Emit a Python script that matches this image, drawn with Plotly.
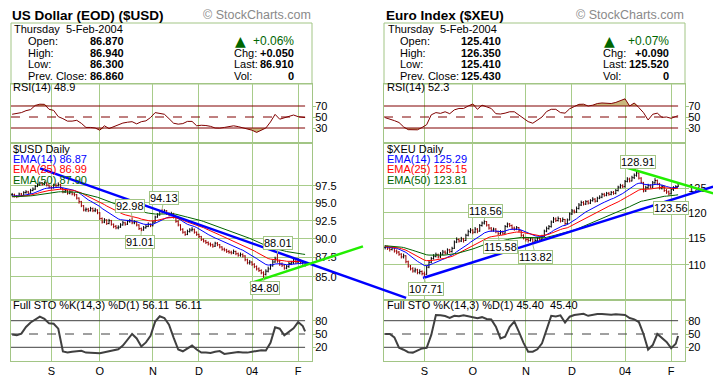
import numpy as np
import plotly.graph_objects as go

W, H = 713, 379
FONT = "Liberation Sans, Arial, sans-serif"

# ---------------- data ----------------
months = ['S', 'O', 'N', 'D', '04', 'F']
month_idx = [17, 38, 61, 81, 104, 124]

usd_close = [96.20, 96.00, 95.90, 96.30, 96.10, 96.50, 96.60, 96.40, 96.80, 97.00,
             97.40, 97.60, 97.90, 97.70, 97.90, 97.60, 97.30, 97.20, 97.60, 97.50,
             97.70, 97.10, 96.60, 96.80, 96.40, 96.60, 96.30, 96.20, 95.70, 95.20,
             94.60, 94.00, 94.10, 93.90, 94.20, 93.90, 94.00, 93.60, 92.80, 92.30,
             92.60, 92.10, 92.50, 92.00, 91.70, 91.50, 91.60, 91.90, 92.20, 92.00,
             92.40, 92.50, 92.20, 92.30, 91.90, 91.40, 91.20, 91.50, 91.70, 92.00,
             91.80, 92.30, 93.00, 93.30, 93.80, 93.70, 93.90, 93.50, 93.30, 93.50,
             93.00, 92.40, 91.90, 91.30, 90.90, 90.60, 91.00, 91.20, 91.30, 90.90,
             90.60, 90.30, 89.90, 89.70, 89.50, 89.30, 89.20, 89.00, 89.40, 89.20,
             88.90, 88.60, 88.50, 88.30, 88.20, 88.10, 88.30, 88.00, 87.80, 87.90,
             87.70, 87.20, 86.80, 86.90, 86.60, 86.30, 86.00, 85.80, 85.50, 85.30,
             85.70, 86.00, 86.40, 86.90, 87.30, 87.00, 86.60, 86.50, 86.10, 86.30,
             86.70, 86.80, 87.00, 86.90, 87.10, 86.80, 86.86, 86.91]
usd_high = [96.45, 96.35, 96.15, 96.50, 96.45, 96.70, 96.85, 96.75, 97.05, 97.25,
            97.60, 97.85, 98.10, 98.05, 98.15, 98.00, 97.70, 97.50, 97.80, 97.85,
            98.00, 97.75, 97.20, 97.05, 96.90, 96.85, 96.70, 96.50, 96.30, 95.80,
            95.30, 94.70, 94.35, 94.30, 94.45, 94.35, 94.30, 94.10, 93.70, 92.95,
            92.85, 92.70, 92.75, 92.60, 92.10, 91.90, 91.85, 92.15, 92.45, 92.35,
            92.60, 92.75, 92.98, 92.55, 92.40, 92.00, 91.55, 91.75, 91.95, 92.25,
            92.10, 92.50, 93.20, 93.55, 94.00, 94.13, 94.10, 94.00, 93.70, 93.75,
            93.60, 93.10, 92.55, 92.00, 91.45, 91.05, 91.25, 91.45, 91.60, 91.40,
            91.00, 90.70, 90.40, 90.05, 89.85, 89.65, 89.50, 89.35, 89.60, 89.55,
            89.30, 89.00, 88.80, 88.65, 88.50, 88.40, 88.55, 88.40, 88.15, 88.15,
            88.05, 87.80, 87.35, 87.15, 87.00, 86.75, 86.45, 86.20, 85.95, 85.70,
            85.95, 86.30, 86.65, 87.20, 87.60, 88.01, 87.20, 86.85, 86.60, 86.55,
            86.95, 87.05, 87.35, 87.25, 87.40, 87.20, 87.05, 86.94]
usd_low = [95.95, 95.80, 95.70, 95.85, 95.95, 96.05, 96.35, 96.25, 96.35, 96.70,
           96.90, 97.30, 97.50, 97.50, 97.60, 97.40, 97.10, 96.95, 97.10, 97.30,
           97.40, 96.95, 96.40, 96.45, 96.20, 96.25, 96.10, 95.95, 95.50, 94.90,
           94.40, 93.80, 93.75, 93.70, 93.80, 93.70, 93.70, 93.40, 92.60, 92.10,
           92.15, 91.90, 92.00, 91.80, 91.45, 91.30, 91.30, 91.50, 91.80, 91.80,
           91.90, 92.20, 92.00, 92.00, 91.70, 91.20, 91.01, 91.10, 91.40, 91.60,
           91.60, 91.70, 92.20, 92.90, 93.20, 93.50, 93.55, 93.30, 93.10, 93.15,
           92.80, 92.20, 91.70, 91.10, 90.70, 90.40, 90.50, 90.85, 91.00, 90.70,
           90.40, 90.10, 89.70, 89.50, 89.30, 89.10, 88.95, 88.80, 88.90, 89.00,
           88.70, 88.40, 88.30, 88.10, 88.00, 87.90, 87.95, 87.80, 87.60, 87.60,
           87.50, 87.00, 86.60, 86.55, 86.40, 86.10, 85.80, 85.60, 85.30, 84.80,
           85.15, 85.55, 85.90, 86.30, 86.80, 86.80, 86.40, 86.25, 85.90, 85.95,
           86.15, 86.50, 86.65, 86.65, 86.75, 86.60, 86.55, 86.30]

xeu_close = [113.3, 113.1, 112.9, 113.2, 112.6, 112.4, 112.0, 111.5, 111.7, 110.6,
             109.8, 109.3, 108.9, 109.1, 108.6, 108.8, 108.4, 108.3, 109.6, 110.5,
             111.2, 111.6, 111.9, 111.5, 112.0, 112.4, 112.2, 112.8, 112.5, 113.1,
             114.3, 114.8, 114.5, 114.9, 114.6, 115.6, 116.3, 116.6, 116.2, 116.8,
             116.4, 117.5, 118.0, 118.3, 117.6, 117.0, 116.6, 116.8, 116.3, 115.9,
             116.2, 116.0, 117.3, 117.8, 117.5, 117.0, 116.8, 117.1, 116.5, 115.6,
             115.1, 114.8, 114.6, 114.9, 114.3, 114.6, 115.0, 114.8, 115.4, 116.4,
             116.9, 117.3, 118.2, 118.8, 118.5, 118.9, 118.4, 118.7, 117.9, 118.6,
             119.8, 120.4, 120.2, 120.9, 121.6, 122.1, 121.8, 122.3, 122.0, 122.5,
             122.8, 122.4, 123.0, 123.2, 123.8, 123.6, 124.0, 123.8, 124.2, 124.0,
             124.6, 125.3, 125.6, 125.4, 126.5, 127.0, 126.6, 127.3, 127.8, 128.3,
             127.2, 126.3, 124.5, 125.2, 125.6, 125.3, 126.2, 126.7, 126.0, 125.1,
             125.4, 124.6, 124.3, 123.9, 124.8, 125.2, 125.43, 125.52]
xeu_high = [113.7, 113.6, 113.3, 113.5, 113.3, 112.9, 112.6, 112.2, 112.1, 111.8,
            110.8, 110.0, 109.6, 109.5, 109.3, 109.2, 109.0, 108.8, 109.9, 110.8,
            111.5, 112.0, 112.3, 112.1, 112.4, 112.8, 112.7, 113.1, 113.0, 113.4,
            114.6, 115.2, 115.0, 115.3, 115.1, 115.9, 116.7, 117.0, 116.8, 117.2,
            117.0, 117.8, 118.3, 118.56, 118.4, 117.8, 117.2, 117.1, 117.0, 116.5,
            116.6, 116.5, 117.6, 118.1, 118.0, 117.7, 117.3, 117.4, 117.2, 116.6,
            115.8, 115.3, 115.1, 115.2, 115.0, 115.0, 115.3, 115.3, 115.7, 116.7,
            117.3, 117.6, 118.5, 119.2, 119.1, 119.3, 119.0, 119.1, 118.8, 118.9,
            120.1, 120.8, 120.7, 121.3, 122.0, 122.5, 122.4, 122.6, 122.6, 122.8,
            123.2, 123.0, 123.3, 123.6, 124.1, 124.1, 124.3, 124.3, 124.5, 124.5,
            124.9, 125.6, 126.0, 125.9, 126.8, 127.4, 127.3, 127.7, 128.2, 128.91,
            128.4, 127.4, 126.4, 125.6, 126.0, 125.9, 126.6, 127.2, 126.9, 126.2,
            125.8, 125.6, 124.9, 124.6, 125.1, 125.5, 125.7, 126.35]
xeu_low = [112.9, 112.8, 112.5, 112.7, 112.3, 112.0, 111.7, 111.2, 111.2, 110.3,
           109.5, 109.0, 108.6, 108.6, 108.3, 108.3, 108.1, 107.71, 108.2, 109.4,
           110.3, 111.0, 111.4, 111.2, 111.3, 111.8, 111.9, 112.0, 112.2, 112.3,
           113.0, 114.1, 114.2, 114.3, 114.2, 114.5, 115.4, 116.0, 115.8, 116.0,
           116.0, 116.3, 117.3, 117.7, 117.3, 116.7, 116.3, 116.3, 116.0, 115.58,
           115.7, 115.7, 115.9, 117.1, 117.2, 116.7, 116.5, 116.6, 116.2, 115.3,
           114.8, 114.4, 114.2, 114.4, 113.82, 114.1, 114.4, 114.5, 114.7, 115.2,
           116.2, 116.7, 117.1, 118.0, 118.2, 118.3, 118.1, 118.2, 117.6, 117.7,
           118.5, 119.6, 119.9, 120.0, 120.7, 121.4, 121.5, 121.6, 121.7, 121.8,
           122.3, 122.1, 122.2, 122.8, 123.0, 123.3, 123.4, 123.5, 123.6, 123.7,
           123.8, 124.4, 125.0, 125.1, 125.2, 126.3, 126.3, 126.5, 127.0, 127.5,
           126.9, 126.0, 124.2, 124.3, 124.9, 125.0, 125.1, 126.0, 125.7, 124.8,
           124.8, 124.3, 123.9, 123.56, 123.8, 124.5, 124.9, 125.41]

# indicator readings, every second trading day plus the last one
usd_rsi = [55, 56.6, 58, 61.5, 63.5, 71, 73.3, 73, 64, 62,
           50.6, 47, 42.5, 42.5, 44, 38.5, 31, 31, 30, 26,
           34, 29, 32, 36, 39, 40.5, 41.5, 37.5, 41.5, 43,
           49, 58, 56, 55, 47, 38.7, 37, 38, 42, 42,
           34, 35, 34.5, 33, 30, 29.7, 31, 33, 34, 32.5,
           30, 28, 26, 22, 26, 30, 41, 54.8, 46, 49,
           51.8, 53.6, 50.6, 49.5, 48.9]
xeu_rsi = [48.8, 46.4, 43.4, 40, 32, 27, 26.7, 26.7, 31, 36,
           54, 58, 56.6, 59.5, 56, 63, 65.5, 65.5, 70, 73.7,
           64, 71.5, 68.5, 65.5, 56, 55.4, 57, 59.5, 59.5, 54,
           47, 41.6, 38.7, 45, 50, 60, 64, 64, 58, 57,
           65, 69, 73, 73.3, 70, 71.5, 74.5, 75.5, 75, 74.5,
           76.5, 79.5, 83, 70, 75.5, 67, 58, 44.6, 55, 57,
           49.4, 50, 47.6, 51, 52.3]
usd_sto = [49, 47, 51, 66, 76, 83, 89, 84, 74, 73,
           62, 10.5, 8.5, 10.2, 11, 12, 8, 8, 7, 6.5,
           9, 11, 12.5, 15.5, 24, 37, 50, 40, 22, 31,
           46, 78, 90, 86, 71, 42, 15, 11, 18, 24,
           15, 8, 8, 7, 10, 11.5, 5, 6, 7.5, 9.5,
           8.5, 8, 10, 12, 13.5, 13, 30, 65, 62, 47,
           55, 63, 77, 68, 56.11]
xeu_sto = [50, 50, 42.5, 19, 14.5, 9, 8, 13, 17.5, 19,
           48, 92.8, 92.5, 90.5, 86.5, 91, 90, 92, 89.5, 88,
           85.5, 88, 84, 83, 66.5, 40, 44, 66, 78, 55,
           30, 10.2, 10.2, 15.5, 29, 60, 91, 89.5, 92, 76,
           89, 92.8, 94, 95.5, 91, 93, 95, 95, 93.5, 93.5,
           94.3, 93, 92.8, 86, 83, 77, 50, 15, 25, 50,
           40, 32, 18, 28, 45.4]

usd_ema_seed = [96.0, 95.9, 95.9]
xeu_ema_seed = [113.4, 113.5, 113.6]
ema_periods = [14, 25, 50]

usd_mark_idx = [52, 56, 65, 115, 109]
usd_mark_val = [92.98, 91.01, 94.13, 88.01, 84.80]
xeu_mark_idx = [17, 43, 49, 64, 109, 123]
xeu_mark_val = [107.71, 118.56, 115.58, 113.82, 128.91, 123.56]

# trend-line anchors (trading-day index, price)
usd_blue = [(12.1, 100.09), (170.8, 82.33)]
usd_green = [(103.1, 84.15), (152.1, 88.98)]
xeu_blue = [(16.4, 107.64), (142.2, 125.4)]
xeu_green = [(102.3, 129.82), (142.2, 124.02)]

usd_yticks = [85.0, 87.5, 90.0, 92.5, 95.0, 97.5]
xeu_yticks = [110, 115, 120, 125]

titles = ["US Dollar (EOD) ($USD)", "Euro Index ($XEU)"]
day_text = "Thursday&nbsp;&nbsp;5-Feb-2004"
ohlc_labels = ["Open:", "High:", "Low:", "Prev. Close:"]
usd_info = ["86.870", "86.940", "86.300", "86.860"]
xeu_info = ["125.410", "126.350", "125.410", "125.430"]
usd_right = ["+0.06%", "+0.050", "86.910", "0"]
xeu_right = ["+0.07%", "+0.090", "125.520", "0"]
usd_ema_last = ["86.87", "86.99", "87.90"]
xeu_ema_last = ["125.29", "125.15", "123.81"]
usd_rsi_last = "48.9"
xeu_rsi_last = "52.3"
usd_sto_last = "56.11"
xeu_sto_last = "45.40"
symbols = ["$USD", "$XEU"]

# ---------------- style / geometry ----------------
FRAME = '#a2c585'
GRID = '#a8cc8a'
TAN = '#c9b77c'
MAROON = '#800000'
DOWN = '#990000'
STO_C = '#404040'
XL = [11, 384]
FW = 301
XR = [-0.5, 130.0]
PXU = FW / (XR[1] - XR[0])
ROWS = {'rsi': (84, 143), 'price': (143, 300), 'sto': (300, 361)}
RSI_R = [2.73, 110]
STO_R = [-10.9, 126.7]
PRICE_R = [[np.log10(82.06), np.log10(104.0)], [np.log10(103.74), np.log10(134.9)]]

N = len(usd_close)
idx = list(range(N))
samp = list(range(0, N, 2)) + [N - 1]


def ema(vals, n, seed):
    k = 2.0 / (n + 1)
    out = [seed]
    for v in vals[1:]:
        out.append(out[-1] + k * (v - out[-1]))
    return out


def paper_pt(p, i, price):
    x = (XL[p] + (i - XR[0]) * PXU) / W
    r0, r1 = PRICE_R[p]
    top, bot = ROWS['price']
    ypx = bot - (np.log10(price) - r0) / (r1 - r0) * (bot - top)
    return x, 1 - ypx / H


fig = go.Figure()
layout = dict(width=W, height=H, margin=dict(l=0, r=0, t=0, b=0), autosize=False,
              paper_bgcolor='white', plot_bgcolor='white', showlegend=False,
              font=dict(family=FONT, size=11, color='black'))
annotations = []
shapes = []


def txt(px, py, s, size=11, color='black', xanchor='left', bold=False, family=FONT):
    if bold:
        s = '<b>' + s + '</b>'
    annotations.append(dict(x=px / W, y=1 - py / H, xref='paper', yref='paper', text=s,
                            showarrow=False, xanchor=xanchor, yanchor='middle', borderpad=0,
                            font=dict(size=size, color=color, family=family)))


panels = [
    dict(close=usd_close, high=usd_high, low=usd_low, rsi=usd_rsi, sto=usd_sto,
         seed=usd_ema_seed, midx=usd_mark_idx, mval=usd_mark_val,
         blue=usd_blue, green=usd_green, yt=usd_yticks, yfmt='{:.1f}',
         info=usd_info, right=usd_right, emal=usd_ema_last, rsil=usd_rsi_last,
         stol=usd_sto_last,
         off=[(-2, -11), (-1, 11), (2, -11), (1, -11), (1, 10)]),
    dict(close=xeu_close, high=xeu_high, low=xeu_low, rsi=xeu_rsi, sto=xeu_sto,
         seed=xeu_ema_seed, midx=xeu_mark_idx, mval=xeu_mark_val,
         blue=xeu_blue, green=xeu_green, yt=xeu_yticks, yfmt='{:.0f}',
         info=xeu_info, right=xeu_right, emal=xeu_ema_last, rsil=xeu_rsi_last,
         stol=xeu_sto_last,
         off=[(2, 11), (1, -9), (2, 12), (3, 12), (1, -8), (2, 13)]),
]

# horizontal offsets of the right-hand panel's texts
OFF_TITLE, OFF_COPY, OFF_DAY, OFF_LAB, OFF_VAL = 374, 373, 374, 372, 371
OFF_RLAB, OFF_RVAL, OFF_CAP = 369, 375, 374

for p, d in enumerate(panels):
    kr, kp, ks = 3 * p + 1, 3 * p + 2, 3 * p + 3
    for k, row in ((kr, 'rsi'), (kp, 'price'), (ks, 'sto')):
        top, bot = ROWS[row]
        xa = dict(domain=[XL[p] / W, (XL[p] + FW) / W], range=XR, anchor=f'y{k}',
                  tickvals=month_idx, ticktext=months, showgrid=True, gridcolor=GRID,
                  gridwidth=1, showline=True, mirror=True, linecolor=FRAME, linewidth=1,
                  zeroline=False, ticks='', showticklabels=(row == 'sto'),
                  tickfont=dict(size=11, family=FONT), fixedrange=True)
        if row == 'price':
            xa['rangeslider'] = dict(visible=False)
        ya = dict(domain=[1 - bot / H, 1 - top / H], anchor=f'x{k}', side='right',
                  showline=True, mirror=True, linecolor=FRAME, linewidth=1, zeroline=False,
                  ticks='outside', ticklen=3, tickcolor=FRAME, ticklabelstandoff=-3,
                  tickfont=dict(size=11, family=FONT), fixedrange=True)
        if row == 'rsi':
            ya.update(range=RSI_R, tickvals=[30, 50, 70], showgrid=False)
        elif row == 'sto':
            ya.update(range=STO_R, tickvals=[20, 50, 80], showgrid=False)
        else:
            ya.update(type='log', range=PRICE_R[p], tickvals=d['yt'],
                      ticktext=[d['yfmt'].format(v) for v in d['yt']],
                      showgrid=True, gridcolor=GRID, gridwidth=1)
        layout['xaxis' if k == 1 else f'xaxis{k}'] = xa
        layout['yaxis' if k == 1 else f'yaxis{k}'] = ya

    xr, yr = ('x', 'y') if kr == 1 else (f'x{kr}', f'y{kr}')
    xp, yp = f'x{kp}', f'y{kp}'
    xs, ys = f'x{ks}', f'y{ks}'

    # ----- RSI -----
    rsi = np.array(d['rsi'], dtype=float)
    for lvl, arr in ((70, np.maximum(rsi, 70)), (30, np.minimum(rsi, 30))):
        fig.add_trace(go.Scatter(x=samp, y=[lvl] * len(samp), mode='lines', line=dict(width=0),
                                 xaxis=xr, yaxis=yr, hoverinfo='skip'))
        fig.add_trace(go.Scatter(x=samp, y=arr, mode='lines', line=dict(width=0), fill='tonexty',
                                 fillcolor=TAN, xaxis=xr, yaxis=yr, hoverinfo='skip'))
    for lvl, dash in ((70, 'solid'), (50, 'dash'), (30, 'solid')):
        fig.add_trace(go.Scatter(x=[XR[0], N - 1], y=[lvl, lvl], mode='lines',
                                 line=dict(color=MAROON, width=1, dash=dash),
                                 xaxis=xr, yaxis=yr, hoverinfo='skip'))
    fig.add_trace(go.Scatter(x=samp, y=rsi, mode='lines', line=dict(color=MAROON, width=1),
                             xaxis=xr, yaxis=yr, hoverinfo='skip'))

    # ----- price -----
    close = d['close']
    opens = [close[0]] + close[:-1]
    fig.add_trace(go.Ohlc(x=idx, open=opens, high=d['high'], low=d['low'], close=close,
                          xaxis=xp, yaxis=yp, tickwidth=0.4, hoverinfo='skip',
                          increasing=dict(line=dict(color='black', width=1)),
                          decreasing=dict(line=dict(color=DOWN, width=1))))
    for n, seed, col in zip(ema_periods, d['seed'], ['#0000ff', '#ff0000', '#006400']):
        fig.add_trace(go.Scatter(x=idx, y=ema(close, n, seed), mode='lines',
                                 line=dict(color=col, width=1), xaxis=xp, yaxis=yp,
                                 hoverinfo='skip'))

    # ----- STO -----
    for lvl, dash in ((80, 'solid'), (50, 'dash'), (20, 'solid')):
        fig.add_trace(go.Scatter(x=[XR[0], N - 1], y=[lvl, lvl], mode='lines',
                                 line=dict(color=STO_C, width=1, dash=dash),
                                 xaxis=xs, yaxis=ys, hoverinfo='skip'))
    fig.add_trace(go.Scatter(x=samp, y=d['sto'], mode='lines', line=dict(color=STO_C, width=2),
                             xaxis=xs, yaxis=ys, hoverinfo='skip'))

    # ----- peak / trough labels -----
    for (i, v), (ax, ay) in zip(zip(d['midx'], d['mval']), d['off']):
        annotations.append(dict(x=i, y=np.log10(v), xref=xp, yref=yp, text='{:.2f}'.format(v),
                                showarrow=True, arrowhead=0, arrowwidth=1, arrowcolor=FRAME,
                                ax=ax, ay=ay, bordercolor=FRAME, borderwidth=1, borderpad=0,
                                bgcolor='white', font=dict(size=11, family=FONT, color='black')))

    # ----- trend lines -----
    for line, col in ((d['blue'], '#0000ff'), (d['green'], '#22ee00')):
        (x0, y0), (x1, y1) = paper_pt(p, *line[0]), paper_pt(p, *line[1])
        shapes.append(dict(type='line', xref='paper', yref='paper', x0=x0, y0=y0, x1=x1, y1=y1,
                           line=dict(color=col, width=2.5), layer='above'))

    # ----- header / info box -----
    shapes.append(dict(type='rect', xref='paper', yref='paper', x0=(XL[p]) / W,
                       x1=(XL[p] + FW) / W, y0=1 - 84 / H, y1=1 - 23 / H,
                       line=dict(color=FRAME, width=1), layer='below'))
    txt(11 + p * OFF_TITLE, 15.5, titles[p], size=13.5, bold=True)
    txt(312 + p * OFF_COPY, 15.5, '\u00a9 StockCharts.com', size=12.5, color='#8a8a8a',
        xanchor='right')
    txt(13 + p * OFF_DAY, 28.5, day_text, size=11)
    for j, (lab, val) in enumerate(zip(ohlc_labels, d['info'])):
        yy = [41, 52.5, 64, 76][j]
        txt(27 + p * OFF_LAB, yy, lab, size=11)
        txt(89 + p * OFF_VAL, yy, val, size=11, bold=True)
    txt(234 + p * OFF_RLAB, 41, '\u25b2', size=14, color='#006600', family='DejaVu Sans')
    txt(295 + p * OFF_RVAL, 41, d['right'][0], size=12, color='#006600', xanchor='right')
    for j, lab in enumerate(['Chg:', 'Last:', 'Vol:']):
        yy = [52.5, 64, 76][j]
        txt(233 + p * OFF_RLAB, yy, lab, size=11)
        txt(295 + p * OFF_RVAL, yy, d['right'][j + 1], size=11, bold=True, xanchor='right')

    # ----- panel captions -----
    txt(12 + p * OFF_CAP, 87.5, 'RSI(14) ' + d['rsil'], size=11)
    txt(12 + p * OFF_CAP, 149, symbols[p] + ' Daily', size=11)
    for j, (n, col) in enumerate(zip(ema_periods, ['#0000ff', '#ff0000', '#006400'])):
        txt(12 + p * OFF_CAP, [159, 169.5, 180][j], 'EMA({}) {}'.format(n, d['emal'][j]),
            size=11, color=col)
    txt(12 + p * OFF_CAP, 305,
        'Full STO %K(14,3) %D(1) {}&nbsp;&nbsp;{}'.format(d['stol'], d['stol']), size=11)

layout['annotations'] = annotations
layout['shapes'] = shapes
fig.update_layout(**layout)
fig.write_html("out.html", config={'displayModeBar': False},
               post_script="document.body.style.margin='0px';document.body.style.padding='0px';")
